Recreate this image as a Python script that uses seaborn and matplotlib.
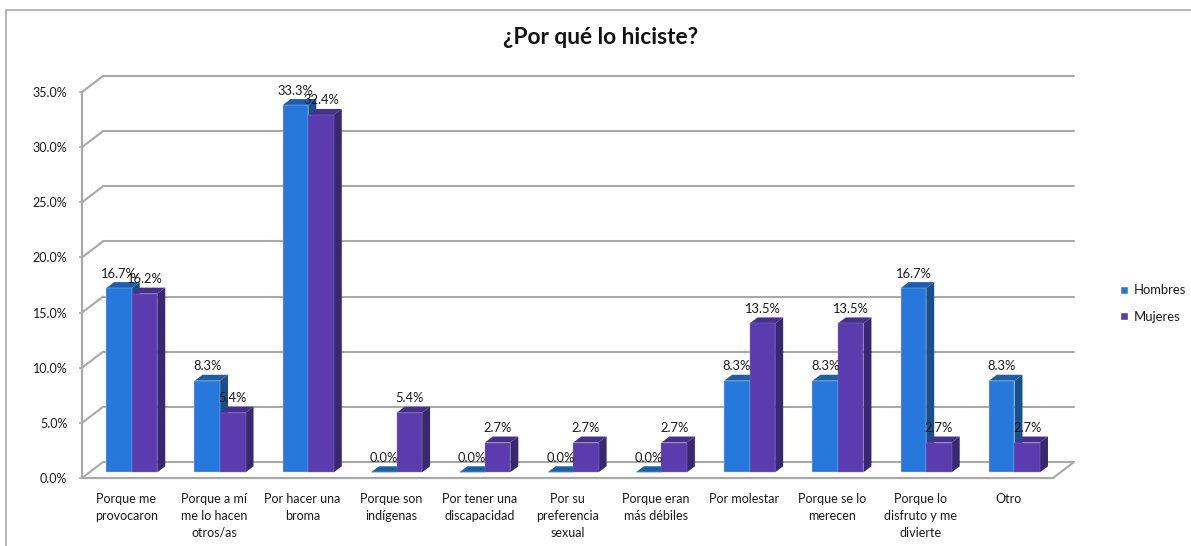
import matplotlib
matplotlib.use("Agg")
import matplotlib.pyplot as plt
from matplotlib.lines import Line2D
from matplotlib.patches import Polygon
from matplotlib.transforms import Affine2D
import pandas as pd
import seaborn as sns

categorias = ["Porque me\nprovocaron", "Porque a mí\nme lo hacen\notros/as", "Por hacer una\nbroma",
              "Porque son\nindígenas", "Por tener una\ndiscapacidad", "Por su\npreferencia\nsexual",
              "Porque eran\nmás débiles", "Por molestar", "Porque se lo\nmerecen",
              "Porque lo\ndisfruto y me\ndivierte", "Otro"]
hombres = [16.7, 8.3, 33.3, 0.0, 0.0, 0.0, 0.0, 8.3, 8.3, 16.7, 8.3]
mujeres = [16.2, 5.4, 32.4, 5.4, 2.7, 2.7, 2.7, 13.5, 13.5, 2.7, 2.7]
yticks = [0, 5, 10, 15, 20, 25, 30, 35]

W, H = 1191, 546
L, R, T, B = 82, 1053, 92, 478
sns.set_theme(style="white")
plt.rcParams["font.family"] = ["Lato", "DejaVu Sans"]
GREY = "#a9a9a9"
TXT = "#1a1a1a"
FACE = {"Hombres": ("#2778dc", "#1b4f8c", "#1e5ea8"), "Mujeres": ("#5b3cae", "#39286e", "#46308c")}
EDGE = {"Hombres": "#a9cdf3", "Mujeres": "#8f7cc8"}

df = pd.concat([
    pd.DataFrame({"cat": categorias, "val": hombres, "sexo": "Hombres"}),
    pd.DataFrame({"cat": categorias, "val": mujeres, "sexo": "Mujeres"}),
])

fig = plt.figure(figsize=(W / 100, H / 100), dpi=100, facecolor="white")
ax = fig.add_axes([L / W, (H - B) / H, (R - L) / W, (B - T) / H])
ax.patch.set_visible(False)
sns.barplot(data=df, x="cat", y="val", hue="sexo", order=categorias,
            palette={k: v[0] for k, v in FACE.items()}, width=0.578, gap=0,
            saturation=1, errorbar=None, ax=ax)
ax.set_xlim(-0.5, 10.5)
ax.set_ylim(0, 35)
ax.set_xlabel("")
ax.set_ylabel("")

px_x = (R - L) / 11
px_y = (B - T) / 35
wall_dx, wall_dy = 21, 16
bar_shift = Affine2D().translate(5.6, 5.7)
bar_tr = ax.transData + bar_shift
wall_tr = ax.transData + Affine2D().translate(wall_dx, wall_dy)
depth_x, depth_y = 8 / px_x, 6 / px_y

# walls
for t in yticks:
    ax.plot([-0.5, 10.5], [t, t], transform=wall_tr, color=GREY, lw=1.5, zorder=1, clip_on=False)
    ax.plot([-0.5, -0.5 + wall_dx / px_x], [t, t + wall_dy / px_y], color=GREY, lw=1.5, zorder=1, clip_on=False)
ax.plot([10.5, 10.5 + wall_dx / px_x], [0, wall_dy / px_y], color=GREY, lw=1.5, zorder=1, clip_on=False)

# bars
for i, (cont, name) in enumerate(zip(ax.containers, ["Hombres", "Mujeres"])):
    front, side, top = FACE[name]
    for p in cont:
        x, w, h = p.get_x(), p.get_width(), p.get_height()
        p.set_transform(bar_tr)
        p.set_zorder(4 + 2 * i)
        p.set_clip_on(False)
        p.set_edgecolor(EDGE[name])
        p.set_linewidth(0.3)
        ax.add_patch(Polygon([(x + w, 0), (x + w + depth_x, depth_y), (x + w + depth_x, h + depth_y), (x + w, h)],
                             closed=True, facecolor=side, edgecolor="none", transform=bar_tr,
                             zorder=3 + 2 * i, clip_on=False))
        ax.add_patch(Polygon([(x, h), (x + depth_x, h + depth_y), (x + w + depth_x, h + depth_y), (x + w, h)],
                             closed=True, facecolor=top, edgecolor="none", transform=bar_tr,
                             zorder=3 + 2 * i, clip_on=False))
        ax.text(x + w / 2, h, f"{h:.1f}%", transform=bar_tr + Affine2D().translate(0, 14.5),
                ha="center", va="center", fontsize=9.3, color=TXT, zorder=10, clip_on=False)

# axes
sns.despine(ax=ax, top=True, right=True)
for s in ("left", "bottom"):
    ax.spines[s].set_color(GREY)
    ax.spines[s].set_linewidth(1.6)
    ax.spines[s].set_zorder(2)
ax.set_yticks(yticks)
ax.set_yticklabels([f"{t:.1f}%" for t in yticks], fontsize=9, color=TXT)
ax.tick_params(axis="y", left=True, length=2.5, width=1.2, color=GREY, pad=8)
ax.tick_params(axis="x", bottom=False, length=0, pad=11)
ax.set_xticks(range(len(categorias)))
ax.set_xticklabels(categorias, fontsize=9, color=TXT, linespacing=1.47, va="top")

sns.move_legend(ax, loc="center left", bbox_to_anchor=(1108 / W, 1 - 303.5 / H),
                bbox_transform=fig.transFigure, title=None, frameon=False, fontsize=9.4,
                handlelength=0.6, handleheight=0.6, handletextpad=0.5, labelspacing=1.1,
                labelcolor=TXT)

fig.text(601 / W, 1 - 37 / H, "¿Por qué lo hiciste?", ha="center", va="center",
         fontsize=16.4, fontweight="bold", color="#111111")
fig.add_artist(Line2D([6 / W, 6 / W, 1], [0, 1 - 10 / H, 1 - 10 / H], color=GREY, lw=1.2))

fig.savefig("out.png", dpi=100, facecolor="white")
